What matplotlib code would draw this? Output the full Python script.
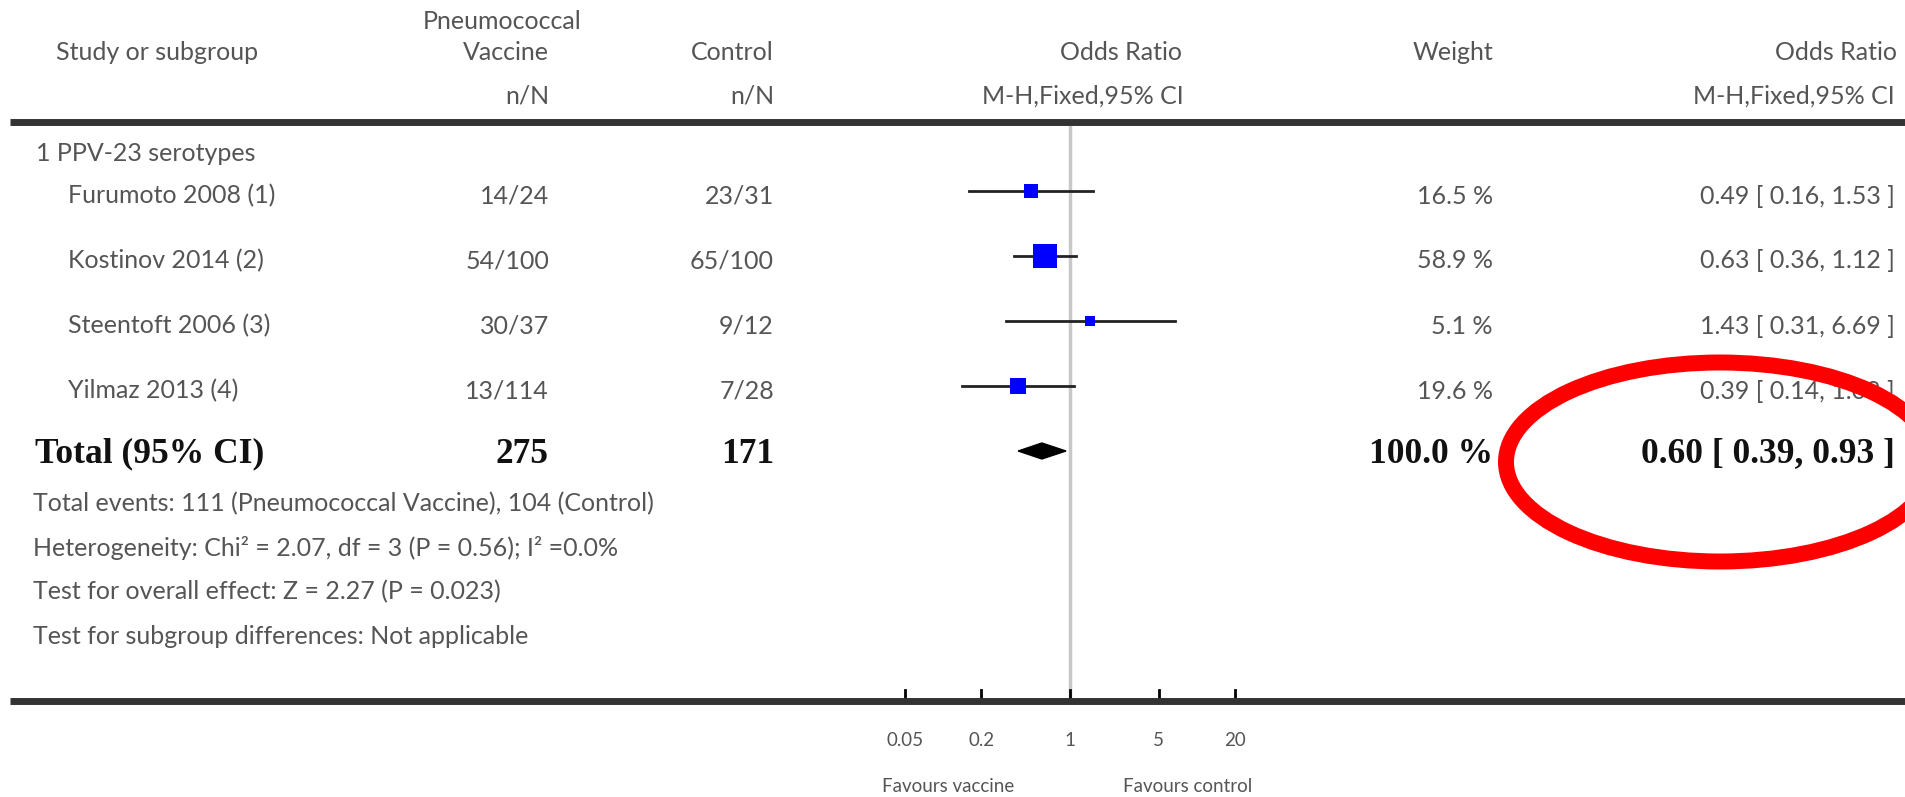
import numpy as np
import matplotlib
matplotlib.use("Agg")
import matplotlib.pyplot as plt
from matplotlib.patches import Ellipse

# study rows
studies = ['Furumoto 2008 (1)', 'Kostinov 2014 (2)', 'Steentoft 2006 (3)', 'Yilmaz 2013 (4)']
vaccine_nN = ['14/24', '54/100', '30/37', '13/114']
control_nN = ['23/31', '65/100', '9/12', '7/28']
weights = [16.5, 58.9, 5.1, 19.6]
odds = [0.49, 0.63, 1.43, 0.39]
ci_low = [0.16, 0.36, 0.31, 0.14]
ci_high = [1.53, 1.12, 6.69, 1.08]

# pooled result
total_vaccine = 275
total_control = 171
total_weight = 100.0
total_or = 0.60
total_low = 0.39
total_high = 0.93

footnotes = ['Total events: 111 (Pneumococcal Vaccine), 104 (Control)',
             'Heterogeneity: Chi\u00b2 = 2.07, df = 3 (P = 0.56); I\u00b2 =0.0%',
             'Test for overall effect: Z = 2.27 (P = 0.023)',
             'Test for subgroup differences: Not applicable']

ticks = [0.05, 0.2, 1, 5, 20]
tick_labels = ['0.05', '0.2', '1', '5', '20']

W, H = 1906, 797
X_ONE = 1070.0      # pixel column of OR = 1
PX_DEC = 126.8      # pixels per decade

row_y = [191, 256, 321, 386]
total_y = 451
foot_y = [504, 548, 592, 636]

GREY = '#555555'
SANS = 'Lato'
FS = 18

fig = plt.figure(figsize=(W / 100, H / 100), dpi=100)

# forest panel: log x, pixel rows
ax = fig.add_axes([0, 0, 1, 1])
ax.set_xscale('log')
ax.set_xlim(10 ** (-X_ONE / PX_DEC), 10 ** ((W - X_ONE) / PX_DEC))
ax.set_ylim(H, 0)
ax.axis('off')

# table overlay in pixels
tx = fig.add_axes([0, 0, 1, 1], zorder=3)
tx.set_xlim(0, W)
tx.set_ylim(H, 0)
tx.axis('off')

# rules
tx.plot([10, W], [122, 122], color='#333333', lw=5, solid_capstyle='butt')
tx.plot([10, W], [701, 701], color='#333333', lw=5, solid_capstyle='butt')

# no-effect line
ax.plot([1, 1], [125, 698], color='#c8c8c8', lw=2.5, zorder=1)

for y, o, lo, hi, w in zip(row_y, odds, ci_low, ci_high, weights):
    ax.plot([lo, hi], [y, y], color='#222222', lw=2, zorder=2)
    side = 2.6 * np.sqrt(w) + 4
    ax.plot(o, y, marker='s', markersize=side * 0.72, color='#0000ff',
            markeredgewidth=0, zorder=3)

# pooled diamond
ax.fill([total_low, total_or, total_high, total_or],
        [total_y, total_y - 8, total_y, total_y + 8], color='black', zorder=3)

# axis ticks
for t, lab in zip(ticks, tick_labels):
    ax.plot([t, t], [690, 701], color='black', lw=2)
    ax.text(t, 740, lab, ha='center', va='center', fontsize=13.5,
            family=SANS, color=GREY)
tx.text(948, 787, 'Favours vaccine', ha='center', va='center', fontsize=13.5,
        family=SANS, color=GREY)
tx.text(1188, 787, 'Favours control', ha='center', va='center', fontsize=13.5,
        family=SANS, color=GREY)

# header
hdr = dict(fontsize=FS, family=SANS, color=GREY, va='center')
tx.text(56, 52, 'Study or subgroup', ha='left', **hdr)
tx.text(502, 21, 'Pneumococcal', ha='center', **hdr)
tx.text(549, 52, 'Vaccine', ha='right', **hdr)
tx.text(549, 96, 'n/N', ha='right', **hdr)
tx.text(774, 52, 'Control', ha='right', **hdr)
tx.text(774, 96, 'n/N', ha='right', **hdr)
tx.text(1182, 52, 'Odds Ratio', ha='right', **hdr)
tx.text(1184, 96, 'M-H,Fixed,95% CI', ha='right', **hdr)
tx.text(1493, 52, 'Weight', ha='right', **hdr)
tx.text(1897, 52, 'Odds Ratio', ha='right', **hdr)
tx.text(1895, 96, 'M-H,Fixed,95% CI', ha='right', **hdr)

tx.text(36, 153, '1 PPV-23 serotypes', ha='left', **hdr)

for y, name, v, c, w, o, lo, hi in zip(row_y, studies, vaccine_nN, control_nN,
                                         weights, odds, ci_low, ci_high):
    ty = y + 5
    tx.text(68, ty, name, ha='left', **hdr)
    tx.text(549, ty, v, ha='right', **hdr)
    tx.text(774, ty, c, ha='right', **hdr)
    tx.text(1493, ty, f'{w:.1f} %', ha='right', **hdr)
    tx.text(1895, ty, f'{o:.2f} [ {lo:.2f}, {hi:.2f} ]', ha='right', **hdr)

bold = dict(fontsize=25.5, family='Liberation Serif', weight='bold',
            color='#111111', va='center')
ty = total_y + 3
tx.text(35, ty, 'Total (95% CI)', ha='left', **bold)
tx.text(549, ty, str(total_vaccine), ha='right', **bold)
tx.text(774, ty, str(total_control), ha='right', **bold)
tx.text(1493, ty, f'{total_weight:.1f} %', ha='right', **bold)
tx.text(1895, ty, f'{total_or:.2f} [ {total_low:.2f}, {total_high:.2f} ]',
        ha='right', **bold)

for y, s in zip(foot_y, footnotes):
    tx.text(33, y, s, ha='left', **hdr)

# highlight ring around the pooled estimate
tx.add_patch(Ellipse((1720, 462), 428, 199, fill=False, edgecolor='#ff0000',
                     lw=11.5, zorder=5))

fig.savefig('out.png', dpi=100)
